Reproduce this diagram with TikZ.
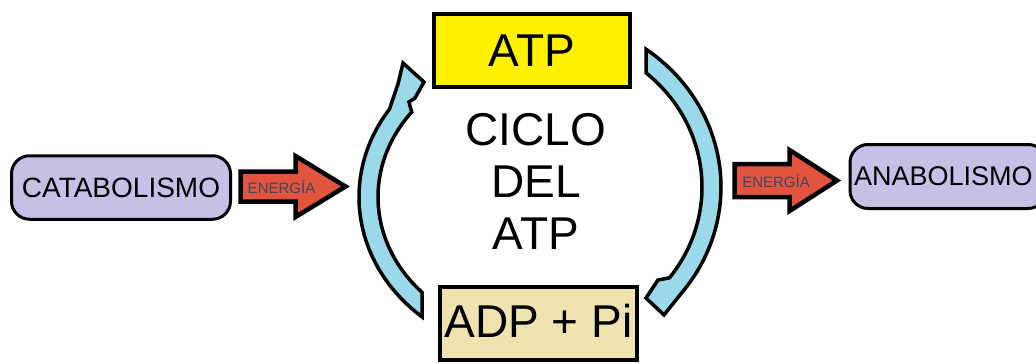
\documentclass[tikz,border=0pt]{standalone}
\usepackage{fontspec}
\setmainfont{Liberation Sans}
\usetikzlibrary{calc}
\definecolor{atpyellow}{RGB}{255,242,0}
\definecolor{adpbeige}{RGB}{239,228,176}
\definecolor{pathlavender}{RGB}{200,191,231}
\definecolor{energyred}{RGB}{226,84,62}
\definecolor{cycleblue}{RGB}{153,217,234}
\definecolor{energytext}{RGB}{60,72,100}
\begin{document}
\begin{tikzpicture}[x=1pt,y=-1pt,
  cyclebox/.style={draw=black, line width=4pt, inner sep=0pt,
    font=\fontsize{46}{52}\selectfont},
  pathbox/.style={draw=black, line width=3pt, fill=pathlavender,
    rounded corners=18pt, inner sep=0pt},
  energyarrow/.style={draw=black, line width=4.5pt, fill=energyred, line join=miter},
  energylabel/.style={font=\fontsize{15}{17}\selectfont, text=energytext, inner sep=0pt},
  band/.style={draw=black, line width=3.5pt, fill=cycleblue, line join=miter, miter limit=4}]
\clip (0,0) rectangle (1036,364);
\fill[white] (0,0) rectangle (1036,364);

% left band: ADP + Pi back up to ATP
\coordinate (cl) at (537,197);
\draw[band] ($(cl)+(130.2:178 and 157)$)
  arc[start angle=130.2, end angle=214, x radius=178, y radius=157]
  -- (398,84) -- (403,63) -- (424,82) -- (415,98) -- (409,102)
  -- ($(cl)+(218:159 and 138)$)
  arc[start angle=218, end angle=136.3, x radius=159, y radius=138]
  -- cycle;

% right band: ATP down to ADP + Pi
\coordinate (cr) at (540,187);
\draw[band] ($(cr)+(-54.1:181 and 170)$)
  arc[start angle=-54.1, end angle=38, x radius=181, y radius=170]
  -- (664,315) -- (646,298) -- (658,280)
  -- ($(cr)+(37:162 and 151)$)
  arc[start angle=37, end angle=-49.1, x radius=162, y radius=151]
  -- cycle;

% cycle boxes and title
\node[cyclebox, fill=atpyellow, minimum width=196pt, minimum height=73pt]
  (atp) at (532,50.5) {ATP};
\node[cyclebox, fill=adpbeige, minimum width=197pt, minimum height=73pt,
  text depth=6pt] (adp) at (538.5,323.5) {ADP + Pi};
\node[font=\fontsize{46}{52}\selectfont, align=center, inner sep=0pt]
  (ciclo) at (536,181) {CICLO\\DEL\\ATP};

% pathways
\node[pathbox, minimum width=219pt, minimum height=63.5pt,
  font=\fontsize{28}{32}\selectfont] (catab) at (121,187.5) {CATABOLISMO};
\node[pathbox, anchor=west, text width=188pt, align=left, inner xsep=4pt,
  minimum height=64pt, font=\fontsize{27}{31}\selectfont]
  (anab) at (848.5,176.5) {ANABOLISMO};

% energy arrows
\coordinate (ea) at (240.5,186.5);
\draw[energyarrow, shift={(ea)}] (0,-15) -- (55,-15) -- (55,-30.5) -- (105,0)
  -- (55,30.5) -- (55,15) -- (0,15) -- cycle;
\node[energylabel] (e1) at (281.5,187) {ENERGÍA};

\coordinate (eb) at (734.5,180.5);
\draw[energyarrow, shift={(eb)}] (0,-16.5) -- (55,-16.5) -- (55,-30.5) -- (102.5,0)
  -- (55,30.5) -- (55,16.5) -- (0,16.5) -- cycle;
\node[energylabel] (e2) at (776,181.5) {ENERGÍA};
\end{tikzpicture}
\end{document}
